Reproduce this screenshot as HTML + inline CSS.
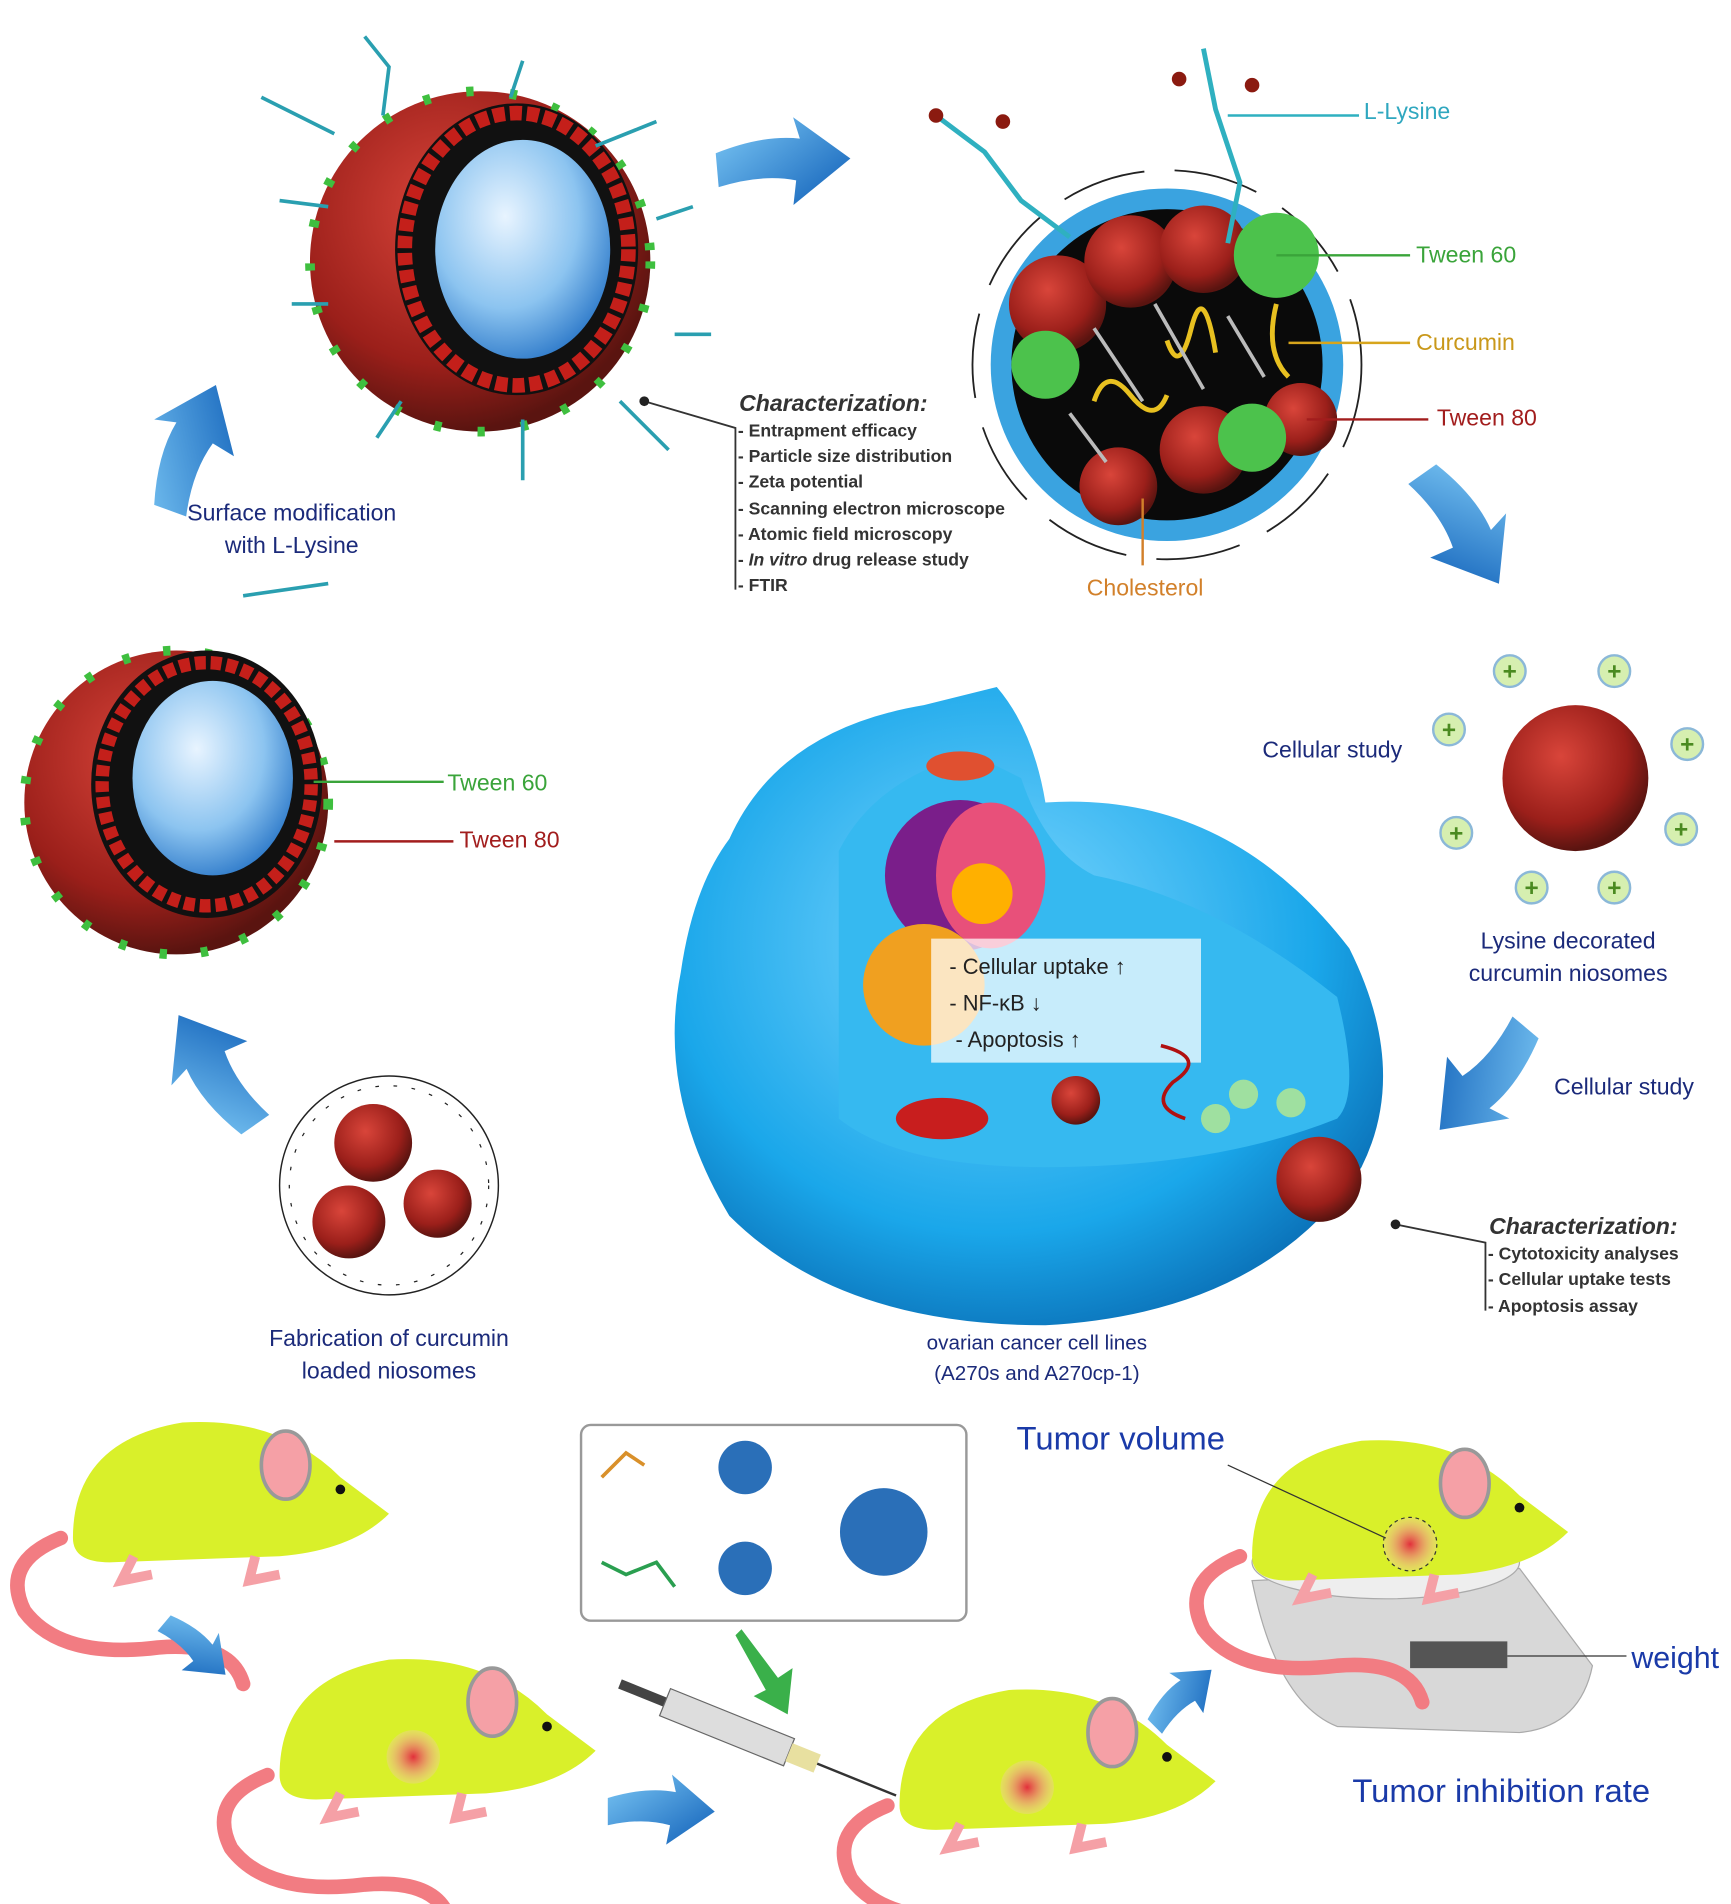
<!DOCTYPE html>
<html><head><meta charset="utf-8"><style>
html,body{margin:0;padding:0;background:#fff;}
svg{display:block;}
text{font-family:"Liberation Sans",sans-serif;}
</style></head><body>
<svg width="1731" height="1904" viewBox="0 0 1424 1566" preserveAspectRatio="none" xmlns="http://www.w3.org/2000/svg">
<defs>
<radialGradient id="red" cx="40%" cy="35%" r="65%"><stop offset="0" stop-color="#d9453a"/><stop offset="0.7" stop-color="#9b1f1a"/><stop offset="1" stop-color="#5a1410"/></radialGradient>
<radialGradient id="blueIn" cx="40%" cy="35%" r="70%"><stop offset="0" stop-color="#e8f4ff"/><stop offset="0.6" stop-color="#8cc4f0"/><stop offset="1" stop-color="#2d79c9"/></radialGradient>
<radialGradient id="cell" cx="45%" cy="40%" r="65%"><stop offset="0" stop-color="#7fd8ff"/><stop offset="0.7" stop-color="#1aa7ea"/><stop offset="1" stop-color="#0a6fb6"/></radialGradient>
<radialGradient id="tum" cx="50%" cy="50%" r="50%"><stop offset="0" stop-color="#e2303a"/><stop offset="1" stop-color="#f7c2c2" stop-opacity="0.3"/></radialGradient>
<linearGradient id="arr" x1="0" y1="0" x2="1" y2="1"><stop offset="0" stop-color="#7cc8f5"/><stop offset="1" stop-color="#0f5fb8"/></linearGradient>
<g id="arrow"><path d="M0,-14 Q40,-26 70,-20 L66,-38 L110,0 L60,34 L64,14 Q36,6 0,14 Z" fill="url(#arr)"/></g>
<g id="mouse">
<path d="M-120,40 Q-170,60 -150,100 Q-120,140 -40,130 Q20,125 30,160" fill="none" stroke="#f27c82" stroke-width="12" stroke-linecap="round"/>
<path d="M-110,40 Q-110,-40 -20,-55 Q60,-60 110,-10 L150,20 Q120,50 60,55 L-80,60 Q-110,60 -110,40 Z" fill="#d9f02a"/>
<ellipse cx="65" cy="-20" rx="20" ry="28" fill="#f5a0a6" stroke="#999" stroke-width="3"/>
<circle cx="110" cy="0" r="4" fill="#111"/>
<path d="M-60,55 l-10,20 l25,-5 M40,55 l-5,20 l25,-5" stroke="#f5a0a6" stroke-width="8" fill="none"/>
</g>
<g id="nio">
<circle r="1" fill="url(#red)"/>
</g>
</defs>
<rect width="1424" height="1566" fill="#fff"/>

<!-- top-left niosome -->
<circle cx="395" cy="215" r="140" fill="url(#red)"/>
<circle cx="395" cy="215" r="140" fill="none" stroke="#3fbf3f" stroke-width="8" stroke-dasharray="6 30"/>
<ellipse cx="425" cy="205" rx="100" ry="120" fill="#111"/>
<ellipse cx="425" cy="205" rx="92" ry="112" fill="none" stroke="#c41f1a" stroke-width="12" stroke-dasharray="10 4"/>
<ellipse cx="430" cy="205" rx="72" ry="90" fill="url(#blueIn)"/>
<g stroke="#2a9fb0" stroke-width="3" fill="none">
<path d="M300,30 l20,25 l-5,40"/><path d="M430,50 l-10,30"/><path d="M215,80 l60,30"/><path d="M490,120 l50,-20"/><path d="M540,180 l30,-10"/><path d="M230,165 l40,5"/><path d="M555,275 l30,0"/><path d="M240,250 l30,0"/><path d="M510,330 l40,40"/><path d="M330,330 l-20,30"/><path d="M430,345 l0,50"/><path d="M200,490 l70,-10"/>
</g>

<!-- arrows around -->
<use href="#arrow" transform="translate(590,140) rotate(-5)"/>
<use href="#arrow" transform="translate(140,420) rotate(-70)"/>
<use href="#arrow" transform="translate(1170,390) rotate(55)"/>
<use href="#arrow" transform="translate(1255,845) rotate(130)"/>
<use href="#arrow" transform="translate(210,925) rotate(-125)"/>

<text x="240" y="428" font-size="19" fill="#1b2a7a" text-anchor="middle">Surface modification</text>
<text x="240" y="455" font-size="19" fill="#1b2a7a" text-anchor="middle">with L-Lysine</text>

<!-- characterization 1 -->
<path d="M530,330 L605,352 L605,485" stroke="#333" fill="none" stroke-width="1.5"/>
<circle cx="530" cy="330" r="4" fill="#222"/>
<text x="608" y="338" font-size="19" font-weight="bold" font-style="italic" fill="#333">Characterization:</text>
<g font-size="14.5" fill="#333" font-weight="bold">
<text x="607" y="359">- Entrapment efficacy</text>
<text x="607" y="380">- Particle size distribution</text>
<text x="607" y="401">- Zeta potential</text>
<text x="607" y="423">- Scanning electron microscope</text>
<text x="607" y="444">-  Atomic field microscopy</text>
<text x="607" y="465">- <tspan font-style="italic">In vitro</tspan> drug release study</text>
<text x="607" y="486">- FTIR</text>
</g>

<!-- top-right cross section -->
<circle cx="960" cy="300" r="160" fill="none" stroke="#222" stroke-width="1.5" stroke-dasharray="70 25"/>
<circle cx="960" cy="300" r="145" fill="#3aa3e0"/>
<circle cx="960" cy="300" r="128" fill="#0a0a0a"/>
<g fill="url(#red)">
<circle cx="870" cy="250" r="40"/><circle cx="930" cy="215" r="38"/><circle cx="990" cy="205" r="36"/><circle cx="990" cy="370" r="36"/><circle cx="920" cy="400" r="32"/><circle cx="1070" cy="345" r="30"/>
</g>
<circle cx="1050" cy="210" r="35" fill="#4cc24c"/><circle cx="860" cy="300" r="28" fill="#4cc24c"/><circle cx="1030" cy="360" r="28" fill="#4cc24c"/>
<path d="M900,330 q10,-30 30,-5 t30,0 M960,280 q10,30 20,-10 t20,20 M1050,250 q-10,40 10,60" stroke="#e8c020" stroke-width="4" fill="none"/>
<g stroke="#bbb" stroke-width="3"><path d="M900,270 l40,60 M950,250 l40,70 M1010,260 l30,50 M880,340 l30,40"/></g>
<g stroke="#2fb0c0" stroke-width="4" fill="none"><path d="M770,95 l40,30 l30,40 l40,30"/><path d="M990,40 l10,50 l20,60 l-10,50"/></g>
<g fill="#8b1a10"><circle cx="770" cy="95" r="6"/><circle cx="825" cy="100" r="6"/><circle cx="970" cy="65" r="6"/><circle cx="1030" cy="70" r="6"/></g>
<line x1="1010" y1="95" x2="1118" y2="95" stroke="#2fb0c0" stroke-width="2"/>
<text x="1122" y="98" font-size="19" fill="#2fa7bf">L-Lysine</text>
<line x1="1050" y1="210" x2="1160" y2="210" stroke="#3aa43a" stroke-width="2"/>
<text x="1165" y="216" font-size="19" fill="#3aa43a">Tween 60</text>
<line x1="1060" y1="282" x2="1160" y2="282" stroke="#d7a51c" stroke-width="2"/>
<text x="1165" y="288" font-size="19" fill="#c9981a">Curcumin</text>
<line x1="1075" y1="345" x2="1175" y2="345" stroke="#a21d1d" stroke-width="2"/>
<text x="1182" y="350" font-size="19" fill="#a21d1d">Tween 80</text>
<line x1="940" y1="410" x2="940" y2="465" stroke="#d2802a" stroke-width="2"/>
<text x="942" y="490" font-size="19" fill="#d2802a" text-anchor="middle">Cholesterol</text>

<!-- left middle niosome -->
<circle cx="145" cy="660" r="125" fill="url(#red)"/>
<circle cx="145" cy="660" r="125" fill="none" stroke="#3fbf3f" stroke-width="8" stroke-dasharray="6 28"/>
<ellipse cx="170" cy="645" rx="95" ry="110" fill="#111"/>
<ellipse cx="170" cy="645" rx="86" ry="100" fill="none" stroke="#c41f1a" stroke-width="11" stroke-dasharray="9 4"/>
<ellipse cx="175" cy="640" rx="66" ry="80" fill="url(#blueIn)"/>
<line x1="258" y1="643" x2="365" y2="643" stroke="#3aa43a" stroke-width="2"/>
<text x="368" y="650" font-size="19" fill="#3aa43a">Tween 60</text>
<line x1="275" y1="692" x2="373" y2="692" stroke="#a21d1d" stroke-width="2"/>
<text x="378" y="697" font-size="19" fill="#a21d1d">Tween 80</text>

<!-- fabrication circle -->
<circle cx="320" cy="975" r="90" fill="none" stroke="#222" stroke-width="1.2"/>
<circle cx="320" cy="975" r="82" fill="none" stroke="#222" stroke-width="1" stroke-dasharray="3 12"/>
<circle cx="307" cy="940" r="32" fill="url(#red)"/><circle cx="287" cy="1005" r="30" fill="url(#red)"/><circle cx="360" cy="990" r="28" fill="url(#red)"/>
<text x="320" y="1107" font-size="19" fill="#1b2a7a" text-anchor="middle">Fabrication of  curcumin</text>
<text x="320" y="1134" font-size="19" fill="#1b2a7a" text-anchor="middle">loaded niosomes</text>

<!-- right lysine niosome -->
<circle cx="1296" cy="640" r="60" fill="url(#red)"/>
<g>
<g fill="#d6efb0" stroke="#8bb8d8" stroke-width="2"><circle cx="1242" cy="552" r="13"/><circle cx="1328" cy="552" r="13"/><circle cx="1192" cy="600" r="13"/><circle cx="1388" cy="612" r="13"/><circle cx="1198" cy="685" r="13"/><circle cx="1383" cy="682" r="13"/><circle cx="1260" cy="730" r="13"/><circle cx="1328" cy="730" r="13"/></g>
<g fill="#4a8a20" font-size="20" font-weight="bold" text-anchor="middle"><text x="1242" y="559">+</text><text x="1328" y="559">+</text><text x="1192" y="607">+</text><text x="1388" y="619">+</text><text x="1198" y="692">+</text><text x="1383" y="689">+</text><text x="1260" y="737">+</text><text x="1328" y="737">+</text></g>
</g>
<text x="1096" y="623" font-size="19" fill="#1b2a7a" text-anchor="middle">Cellular study</text>
<text x="1290" y="780" font-size="19" fill="#1b2a7a" text-anchor="middle">Lysine decorated</text>
<text x="1290" y="807" font-size="19" fill="#1b2a7a" text-anchor="middle">curcumin niosomes</text>
<text x="1336" y="900" font-size="19" fill="#1b2a7a" text-anchor="middle">Cellular study</text>

<!-- cell -->
<path d="M600,690 Q640,600 760,580 L820,565 Q850,600 860,660 Q1010,650 1110,780 Q1160,880 1120,960 Q1040,1080 860,1090 Q690,1090 600,1000 Q540,900 560,800 Q570,730 600,690 Z" fill="url(#cell)"/>
<path d="M690,700 Q720,640 800,620 L840,640 Q860,700 900,720 Q1000,740 1100,820 Q1120,900 1100,920 Q1000,960 860,960 Q740,960 690,920 Z" fill="#36b9f0"/>
<ellipse cx="790" cy="630" rx="28" ry="12" fill="#e05030"/>
<circle cx="790" cy="720" r="62" fill="#7a1e8a"/>
<ellipse cx="815" cy="720" rx="45" ry="60" fill="#e8507a"/>
<circle cx="808" cy="735" r="25" fill="#ffb000"/>
<ellipse cx="760" cy="810" rx="50" ry="50" fill="#f0a020"/>
<rect x="766" y="772" width="222" height="102" fill="#fff" fill-opacity="0.72"/>
<text x="781" y="801" font-size="18" fill="#222">- Cellular uptake  ↑</text>
<text x="781" y="831" font-size="18" fill="#222">- NF-κB ↓</text>
<text x="786" y="861" font-size="18" fill="#222">- Apoptosis ↑</text>
<ellipse cx="775" cy="920" rx="38" ry="17" fill="#c81e1e"/>
<circle cx="885" cy="905" r="20" fill="url(#red)"/>
<circle cx="1085" cy="970" r="35" fill="url(#red)"/>
<circle cx="1000" cy="920" r="12" fill="#9fe0a0"/><circle cx="1023" cy="900" r="12" fill="#9fe0a0"/><circle cx="1062" cy="907" r="12" fill="#9fe0a0"/>
<path d="M955,860 q40,10 10,30 q-20,20 10,30" stroke="#b01010" stroke-width="3" fill="none"/>
<text x="853" y="1110" font-size="17" fill="#1b2a7a" text-anchor="middle">ovarian cancer cell lines</text>
<text x="853" y="1135" font-size="17" fill="#1b2a7a" text-anchor="middle">(A270s and A270cp-1)</text>

<!-- characterization 2 -->
<path d="M1148,1007 L1222,1022 L1222,1078" stroke="#333" fill="none" stroke-width="1.5"/>
<circle cx="1148" cy="1007" r="4" fill="#222"/>
<text x="1225" y="1015" font-size="19" font-weight="bold" font-style="italic" fill="#333">Characterization:</text>
<g font-size="14.5" fill="#333" font-weight="bold">
<text x="1224" y="1036">- Cytotoxicity analyses</text>
<text x="1224" y="1057">- Cellular uptake tests</text>
<text x="1224" y="1079">- Apoptosis assay</text>
</g>

<!-- bottom box -->
<rect x="478" y="1172" width="317" height="161" rx="8" fill="#fff" stroke="#999" stroke-width="2"/>
<circle cx="613" cy="1207" r="22" fill="#2a6fb8"/>
<circle cx="613" cy="1290" r="22" fill="#2a6fb8"/>
<circle cx="727" cy="1260" r="36" fill="#2a6fb8"/>
<path d="M495,1215 l20,-20 l15,10" stroke="#d9902a" stroke-width="3" fill="none"/>
<path d="M495,1285 l20,10 l25,-10 l15,20" stroke="#2a9f50" stroke-width="3" fill="none"/>

<!-- mice -->
<use href="#mouse" transform="translate(170,1225)"/>
<use href="#mouse" transform="translate(340,1420)"/>
<circle cx="340" cy="1445" r="22" fill="url(#tum)"/>
<use href="#mouse" transform="translate(850,1445)"/>
<circle cx="845" cy="1470" r="22" fill="url(#tum)"/>
<!-- scale -->
<path d="M1030,1300 L1250,1290 L1310,1370 Q1300,1420 1250,1425 L1100,1420 Q1050,1400 1030,1300 Z" fill="#d8d8d8" stroke="#aaa"/>
<ellipse cx="1140" cy="1285" rx="110" ry="30" fill="#eee" stroke="#aaa"/>
<rect x="1160" y="1350" width="80" height="22" fill="#555"/>
<use href="#mouse" transform="translate(1140,1240)"/>
<circle cx="1160" cy="1270" r="22" fill="url(#tum)" stroke="#333" stroke-dasharray="3 3"/>
<line x1="1010" y1="1205" x2="1140" y2="1265" stroke="#333" stroke-width="1"/>
<line x1="1240" y1="1362" x2="1338" y2="1362" stroke="#333" stroke-width="1"/>
<text x="922" y="1192" font-size="27" fill="#1a3aa8" text-anchor="middle">Tumor volume</text>
<text x="1342" y="1372" font-size="25" fill="#1a3aa8">weight</text>
<text x="1235" y="1482" font-size="27" fill="#1a3aa8" text-anchor="middle">Tumor inhibition rate</text>

<!-- syringe -->
<g transform="translate(510,1385) rotate(22)">
<rect x="0" y="-4" width="40" height="8" fill="#444"/>
<rect x="40" y="-12" width="110" height="24" fill="#ddd" stroke="#666"/>
<rect x="150" y="-8" width="25" height="16" fill="#e8e0a0"/>
<line x1="175" y1="0" x2="245" y2="0" stroke="#333" stroke-width="2"/>
</g>

<use href="#arrow" transform="translate(135,1335) rotate(40) scale(0.6)"/>
<use href="#arrow" transform="translate(500,1490) rotate(0) scale(0.8)"/>
<use href="#arrow" transform="translate(950,1420) rotate(-45) scale(0.6)"/>
<path d="M610,1340 L640,1380 L652,1372 L648,1410 L620,1395 L630,1390 L605,1345 Z" fill="#3ab04a"/>
</svg>
</body></html>
